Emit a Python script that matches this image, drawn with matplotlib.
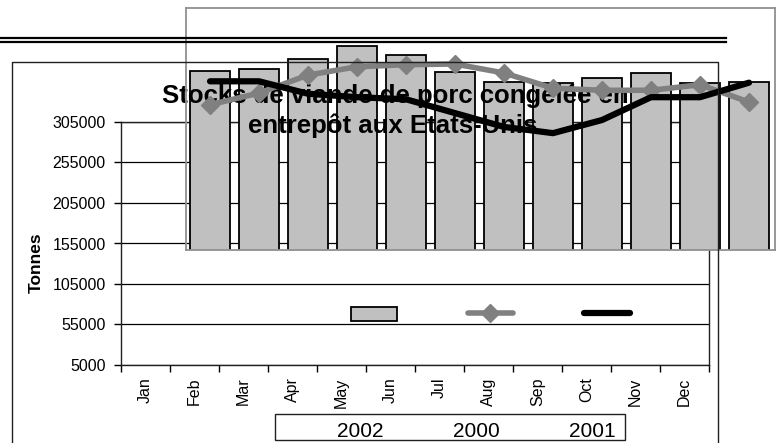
import matplotlib
matplotlib.use('Agg')
import matplotlib.pyplot as plt
from matplotlib.lines import Line2D
from matplotlib.patches import Rectangle
import numpy as np

plt.rcParams['font.family'] = ['Liberation Sans', 'DejaVu Sans']

# data (tonnes)
months = ['Jan', 'Feb', 'Mar', 'Apr', 'May', 'Jun',
          'Jul', 'Aug', 'Sep', 'Oct', 'Nov', 'Dec']
stocks_2002 = [264000, 267000, 281000, 300000, 287000, 263000,
               248000, 246000, 254000, 261000, 246000, 248000]
stocks_2000 = [215000, 232000, 258000, 270000, 273000, 274000,
               261000, 239000, 236000, 236000, 244000, 219000]
stocks_2001 = [249000, 249000, 231000, 226000, 223000, 203000,
               183000, 174000, 193000, 226000, 226000, 247000]
y_ticks = [5000, 55000, 105000, 155000, 205000, 255000, 305000]
legend_labels = ['2002', '2000', '2001']
title_lines = ['Stocks de viande de porc congelée en', 'entrepôt aux Etats-Unis']

W, H = 777, 443
GRAY = '#808080'
BAR = '#c0c0c0'


def fx(px):
    return px / W


def fy(py):
    return 1 - py / H


fig = plt.figure(figsize=(W / 100, H / 100), dpi=100)

# double rule at the top
for yy in (37.5, 41.7):
    fig.add_artist(Line2D([0, fx(726)], [fy(yy), fy(yy)], lw=1.6, color='black'))

# outer chart frame (open at the bottom)
fig.add_artist(Line2D([fx(12), fx(12), fx(718), fx(718)],
                      [0, fy(62), fy(62), 0], lw=1.0, color='#202020'))

# main plot area
ax = fig.add_axes([fx(121), fy(365), fx(709) - fx(121), fy(122) - fy(365)])
ax.set_xlim(0, 12)
ax.set_ylim(5000, 305000)
ax.set_yticks(y_ticks)
ax.set_yticklabels([str(v) for v in y_ticks], fontsize=11.5)
ax.set_xticks(np.arange(13))
ax.set_xticklabels([])
ax.set_xticks(np.arange(12) + 0.5, minor=True)
ax.set_xticklabels(months, minor=True, rotation=90, fontsize=11.5)
ax.tick_params(axis='x', which='major', direction='out', length=5, width=1)
ax.tick_params(axis='x', which='minor', length=0, pad=9)
ax.tick_params(axis='y', direction='out', length=5, width=1, pad=6)
ax.grid(axis='y', color='black', lw=0.9)
for s in ax.spines.values():
    s.set_linewidth(1.0)
    s.set_color('#202020')
ax.set_axisbelow(True)

fig.text(fx(36), fy(263), 'Tonnes', rotation=90, fontsize=12.5,
         fontweight='bold', ha='center', va='center')

# shifted copy of the series area
ax2 = fig.add_axes([fx(186), fy(250), fx(775) - fx(186), fy(8) - fy(250)])
ax2.patch.set_alpha(0)
x = np.arange(12)
ax2.bar(x, stocks_2002, width=0.816, bottom=0, color=BAR,
        edgecolor='black', lw=1.3, zorder=1)
ax2.plot(x, stocks_2000, color=GRAY, lw=4, marker='D', ms=9,
         solid_capstyle='round', zorder=3)
ax2.plot(x, stocks_2001, color='black', lw=4.5,
         solid_capstyle='round', solid_joinstyle='round', zorder=4)
ax2.set_xlim(-0.49, 11.53)
ax2.set_ylim(5000, 355000)
ax2.set_xticks([])
ax2.set_yticks([])
for s in ax2.spines.values():
    s.set_color('#909090')
    s.set_linewidth(1.3)

ax2.text(fx(395), fy(103), title_lines[0], transform=fig.transFigure,
         ha='center', va='baseline', fontsize=18.5, fontweight='bold', zorder=2)
ax2.text(fx(393), fy(133), title_lines[1], transform=fig.transFigure,
         ha='center', va='baseline', fontsize=18.5, fontweight='bold', zorder=2)

# legend: keys and labels drawn apart
fig.add_artist(Rectangle((fx(351), fy(321)), fx(397) - fx(351), fy(307) - fy(321),
                         facecolor=BAR, edgecolor='black', lw=1.3))
fig.add_artist(Line2D([fx(468), fx(513)], [fy(312.5)] * 2, color=GRAY, lw=4,
                      solid_capstyle='round'))
fig.add_artist(Line2D([fx(490)], [fy(312.5)], color=GRAY, marker='D', ms=9, lw=0))
fig.add_artist(Line2D([fx(584), fx(630)], [fy(312.5)] * 2, color='black', lw=4.5,
                      solid_capstyle='round'))

fig.add_artist(Rectangle((fx(275), fy(440)), fx(625) - fx(275), fy(414) - fy(440),
                         facecolor='white', edgecolor='#202020', lw=1.0))
for lab, cx in zip(legend_labels, [360, 476, 592]):
    fig.text(fx(cx), fy(437), lab, ha='center', va='baseline', fontsize=15)

fig.savefig('out.png', dpi=100)
